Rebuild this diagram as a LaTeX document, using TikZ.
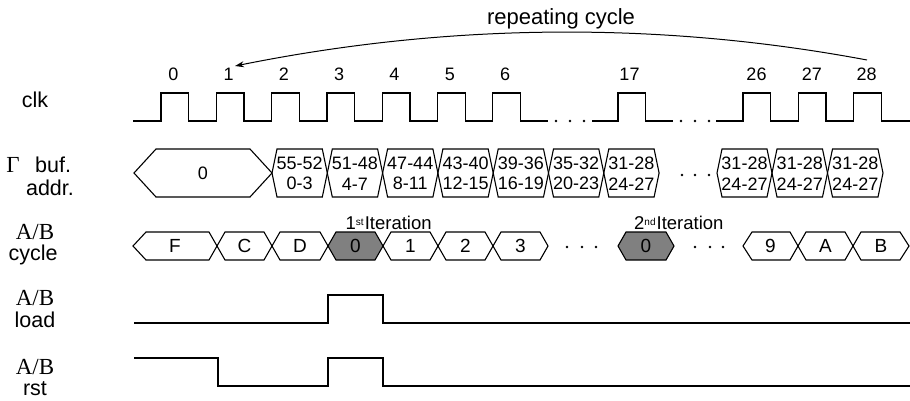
\documentclass[tikz,border=0pt]{standalone}
\usepackage{fontspec}
\setmainfont{Liberation Sans}
\newfontfamily\tmsfont{Liberation Serif}
\usetikzlibrary{arrows.meta}
\definecolor{hexgray}{RGB}{128,128,128}
\tikzset{
  sig/.style={line width=1.2pt, line join=miter},
  hexline/.style={line width=1.1pt, line join=miter},
  lbl/.style={font=\fontsize{21.5}{22}\selectfont, inner sep=0pt, anchor=base},
  tlbl/.style={font=\tmsfont\fontsize{23}{23}\selectfont, inner sep=0pt, anchor=base},
  num/.style={font=\fontsize{18}{18}\selectfont, inner sep=0pt, anchor=base},
  htxt/.style={font=\fontsize{18}{20.5}\selectfont, align=center, inner sep=0pt},
  ctxt/.style={font=\fontsize{19}{19}\selectfont, inner sep=0pt},
  itx/.style={font=\fontsize{18.5}{18.5}\selectfont, inner sep=0pt, anchor=base west},
  dotmark/.style={fill=black},
}
% bus hexagon: x1, x2, taper, name, text
\newcommand\bushex[5]{%
  \draw[hexline] (#1,173) -- ({#1+#3},149) -- ({#2-#3},149) -- (#2,173) -- ({#2-#3},197) -- ({#1+#3},197) -- cycle;
  \node[htxt] (#4) at ({(#1+#2)/2},173.5) {#5};
}
% cycle hexagon: [fill], x1, x2, left taper, right taper, name, text
\newcommand\cychex[7][]{%
  \draw[hexline,#1] (#2,246) -- ({#2+#4},232) -- ({#3-#5},232) -- (#3,246) -- ({#3-#5},260) -- ({#2+#4},260) -- cycle;
  \node[ctxt] (#6) at ({(#2+#3)/2},246) {#7};
}
\begin{document}
\begin{tikzpicture}[x=1pt,y=-1pt]
\useasboundingbox (0,0) rectangle (910,400);

% ---- labels on the left
\node[lbl] (clk) at (35,107) {clk};
\node[tlbl, font=\tmsfont\fontsize{23}{23}\selectfont] (gam) at (13,172) {Γ};
\node[lbl, anchor=base west] (buf) at (35,172) {buf.};
\node[lbl] (addr) at (50,195) {addr.};
\node[tlbl] (ab1) at (35,239) {A/B};
\node[lbl] (cyc) at (33,260) {cycle};
\node[tlbl] (ab2) at (35,305) {A/B};
\node[lbl] (ld) at (35,327) {load};
\node[tlbl] (ab3) at (35,374) {A/B};
\node[lbl] (rst) at (35,395) {rst};

% ---- clock
\draw[sig] (133,121) foreach \r in {161,216.3,271.6,326.9,382.2,437.5,492.8} { -- (\r,121) -- (\r,93) -- ({\r+27.7},93) -- ({\r+27.7},121) } -- (548,121);
\draw[sig] (592,121) -- (618,121) -- (618,93) -- (645.7,93) -- (645.7,121) -- (673,121);
\draw[sig] (716,121) foreach \r in {743,798.3,853.6} { -- (\r,121) -- (\r,93) -- ({\r+27.7},93) -- ({\r+27.7},121) } -- (910,121);
\foreach \x in {556,570,584,681,695,709} \fill[dotmark] (\x,121) circle (1.3pt);

% ---- clock numbers
\node[num] (n0) at (173.3,80) {0};
\node[num] (n1) at (228.6,80) {1};
\node[num] (n2) at (283.9,80) {2};
\node[num] (n3) at (339.2,80) {3};
\node[num] (n4) at (394.5,80) {4};
\node[num] (n5) at (449.8,80) {5};
\node[num] (n6) at (505.1,80) {6};
\node[num] (n17) at (629.5,80) {17};
\node[num] (n26) at (756.5,80) {26};
\node[num] (n27) at (811.8,80) {27};
\node[num] (n28) at (866.6,80) {28};

% ---- repeating cycle arrow
\node[font=\fontsize{22}{22}\selectfont, inner sep=0pt, anchor=base] (rep) at (561,24) {repeating cycle};
\coordinate (arrS) at (867,60);
\coordinate (arrE) at (235,66);
\draw[line width=1pt, -{Stealth[length=9pt,width=6pt]}] (arrS) .. controls (659,21) and (448,23) .. (arrE);

% ---- Gamma buffer address
\bushex{134}{272}{22}{b0}{0}
\bushex{272}{327.3}{5}{b1}{55-52\\0-3}
\bushex{327.3}{382.6}{5}{b2}{51-48\\4-7}
\bushex{382.6}{437.9}{5}{b3}{47-44\\8-11}
\bushex{437.9}{493.2}{5}{b4}{43-40\\12-15}
\bushex{493.2}{548.5}{5}{b5}{39-36\\16-19}
\bushex{548.5}{603.8}{5}{b6}{35-32\\20-23}
\bushex{603.8}{659.1}{5}{b7}{31-28\\24-27}
\bushex{717}{772}{5}{b8}{31-28\\24-27}
\bushex{772}{827.5}{5}{b9}{31-28\\24-27}
\bushex{827.5}{883}{5}{b10}{31-28\\24-27}
\foreach \x in {682,695,709} \fill[dotmark] (\x,175) circle (1.3pt);

% ---- A/B cycle
\cychex{133}{217}{13}{8}{cF}{F}
\cychex{217}{272}{8}{8}{cC}{C}
\cychex{272}{328}{8}{8}{cD}{D}
\cychex[fill=hexgray]{328}{383}{8}{8}{cz1}{0}
\cychex{383}{438}{8}{8}{c1}{1}
\cychex{438}{493}{8}{8}{c2}{2}
\cychex{493}{548}{8}{8}{c3}{3}
\cychex[fill=hexgray]{618}{674}{8}{8}{cz2}{0}
\cychex{743}{798}{9}{8}{c9}{9}
\cychex{798}{853}{8}{8}{cA}{A}
\cychex{853}{909}{8}{9}{cB}{B}
\foreach \x in {567,582,596,695,710,723} \fill[dotmark] (\x,247) circle (1.3pt);

\node[itx] (it1) at (345.5,229) {1\raisebox{4pt}{\fontsize{10}{10}\selectfont st}\kern1pt Iteration};
\node[itx] (it2) at (634,229) {2\raisebox{4pt}{\fontsize{10}{10}\selectfont nd}\kern1pt Iteration};

% ---- A/B load
\draw[sig] (134,323) -- (328,323) -- (328,295) -- (383,295) -- (383,323) -- (910,323);
% ---- A/B rst
\draw[sig] (134,358) -- (218,358) -- (218,386) -- (328,386) -- (328,358) -- (383,358) -- (383,386) -- (910,386);
\end{tikzpicture}
\end{document}
